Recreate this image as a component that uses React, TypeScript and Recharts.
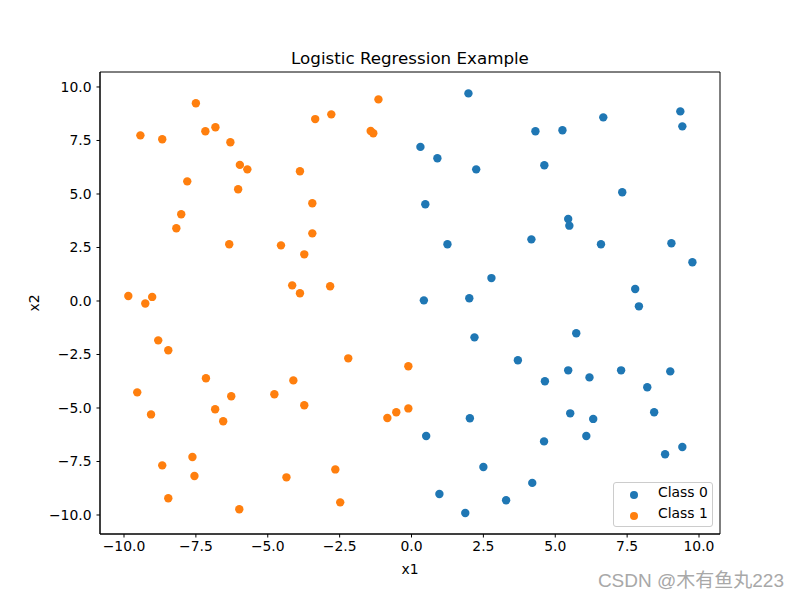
import React from 'react';
import { ScatterChart, Scatter, XAxis, YAxis, ReferenceArea, Legend } from 'recharts';

const class0X = [1.98, 9.35, 9.42, 6.67, 4.31, 5.25, 0.31, 0.90, 2.25, 4.62, 7.33, 0.48, 5.45, 5.49, 1.25, 4.17, 6.59, 9.04, 9.77, 2.78, 7.78, 0.43, 2.01, 7.91, 2.19, 5.73, 3.70, 4.64, 5.45, 6.19, 7.29, 9.00, 8.20, 8.44, 5.52, 6.32, 2.03, 0.51, 6.08, 4.61, 9.42, 8.82, 2.50, 4.20, 0.97, 3.29, 1.87];
const class0Y = [9.70, 8.86, 8.16, 8.58, 7.93, 7.98, 7.20, 6.67, 6.15, 6.34, 5.08, 4.52, 3.83, 3.52, 2.65, 2.88, 2.65, 2.70, 1.81, 1.07, 0.56, 0.03, 0.13, -0.25, -1.70, -1.51, -2.77, -3.75, -3.24, -3.57, -3.24, -3.29, -4.03, -5.20, -5.25, -5.51, -5.48, -6.31, -6.31, -6.56, -6.82, -7.16, -7.76, -8.50, -9.02, -9.31, -9.91];

const class1X = [-7.50, -9.43, -8.67, -7.17, -6.82, -6.30, -5.97, -5.71, -7.80, -6.03, -8.01, -8.18, -6.34, -4.54, -3.73, -3.45, -3.45, -3.88, -3.35, -2.79, -1.15, -1.42, -1.33, -4.15, -3.88, -2.83, -9.85, -9.02, -9.26, -8.81, -8.46, -2.20, -7.15, -9.54, -4.11, -4.77, -6.27, -3.73, -6.83, -6.55, -9.06, -0.11, -0.11, -0.84, -0.53, -7.62, -8.67, -7.55, -8.46, -5.99, -4.35, -2.65, -2.48];
const class1Y = [9.24, 7.74, 7.56, 7.93, 8.12, 7.42, 6.36, 6.15, 5.59, 5.22, 4.05, 3.40, 2.65, 2.60, 2.18, 3.16, 4.57, 6.06, 8.50, 8.72, 9.42, 7.94, 7.84, 0.73, 0.36, 0.69, 0.23, 0.19, -0.12, -1.84, -2.30, -2.68, -3.61, -4.27, -3.71, -4.36, -4.45, -4.87, -5.06, -5.62, -5.30, -3.05, -5.02, -5.47, -5.20, -7.29, -7.68, -8.18, -9.22, -9.73, -8.24, -7.87, -9.41];

const xTicks = [-10, -7.5, -5, -2.5, 0, 2.5, 5, 7.5, 10];
const yTicks = [-10, -7.5, -5, -2.5, 0, 2.5, 5, 7.5, 10];
const seriesNames = ['Class 0', 'Class 1'];
const seriesColors = ['#1f77b4', '#ff7f0e'];
const titleText = 'Logistic Regression Example';
const xLabel = 'x1';
const yLabel = 'x2';
const watermark = 'CSDN @木有鱼丸223';

const xDomain: [number, number] = [-10.835, 10.73];
const yDomain: [number, number] = [-10.888, 10.70];

const class0 = class0X.map((x, i) => ({ x, y: class0Y[i] }));
const class1 = class1X.map((x, i) => ({ x, y: class1Y[i] }));

const FONT = '"DejaVu Sans", sans-serif';
const FS = 13.9;

const fmt = (v: number) => (v < 0 ? '\u2212' : '') + Math.abs(v).toFixed(1);

const makeDot = (color: string) => (props: any) => (
  <circle cx={props.cx} cy={props.cy} r={4.2} fill={color} />
);

const renderLegend = () => (
  <div
    style={{
      position: 'relative',
      width: 100,
      height: 45,
      boxSizing: 'border-box',
      border: '1px solid #cccccc',
      borderRadius: 3,
      background: 'rgba(255,255,255,0.8)',
      fontFamily: FONT,
      fontSize: FS,
      color: '#000',
    }}
  >
    {seriesNames.map((name, i) => (
      <React.Fragment key={name}>
        <div
          style={{
            position: 'absolute',
            left: 15.5,
            top: 7.5 + i * 21,
            width: 8.4,
            height: 8.4,
            borderRadius: '50%',
            background: seriesColors[i],
          }}
        />
        <div
          style={{
            position: 'absolute',
            left: 44,
            top: 3 + i * 21,
            lineHeight: 1,
            whiteSpace: 'nowrap',
          }}
        >
          {name}
        </div>
      </React.Fragment>
    ))}
  </div>
);

export default function App() {
  return (
    <div
      style={{
        position: 'absolute',
        left: 0,
        top: 0,
        width: 800,
        height: 600,
        background: '#fff',
        fontFamily: FONT,
      }}
    >
      <ScatterChart
        width={800}
        height={600}
        margin={{ top: 72, right: 80, bottom: 36, left: 40 }}
      >
        <XAxis
          type="number"
          dataKey="x"
          domain={xDomain}
          ticks={xTicks}
          allowDataOverflow
          tickFormatter={fmt}
          height={30}
          tickSize={3.5}
          tickMargin={4}
          axisLine={{ stroke: '#000', strokeWidth: 1 }}
          tickLine={{ stroke: '#000', strokeWidth: 1 }}
          tick={{ fill: '#000', fontSize: FS, fontFamily: FONT }}
        />
        <YAxis
          type="number"
          dataKey="y"
          domain={yDomain}
          ticks={yTicks}
          allowDataOverflow
          tickFormatter={fmt}
          width={60}
          tickSize={3.5}
          tickMargin={5}
          axisLine={{ stroke: '#000', strokeWidth: 1 }}
          tickLine={{ stroke: '#000', strokeWidth: 1 }}
          tick={{ fill: '#000', fontSize: FS, fontFamily: FONT }}
        />
        <ReferenceArea
          x1={xDomain[0]}
          x2={xDomain[1]}
          y1={yDomain[0]}
          y2={yDomain[1]}
          fill="none"
          stroke="#000"
          strokeWidth={1}
          ifOverflow="visible"
        />
        <Scatter
          name={seriesNames[0]}
          data={class0}
          fill={seriesColors[0]}
          shape={makeDot(seriesColors[0])}
          isAnimationActive={false}
        />
        <Scatter
          name={seriesNames[1]}
          data={class1}
          fill={seriesColors[1]}
          shape={makeDot(seriesColors[1])}
          isAnimationActive={false}
        />
        <Legend
          layout="horizontal"
          verticalAlign="middle"
          align="center"
          content={renderLegend}
          wrapperStyle={{ left: 613, top: 482, width: 100, height: 45 }}
        />
      </ScatterChart>
      <div
        style={{
          position: 'absolute',
          left: 0,
          width: 820,
          top: 49.5,
          textAlign: 'center',
          fontSize: 16.7,
          lineHeight: 1,
          color: '#000',
        }}
      >
        {titleText}
      </div>
      <div
        style={{
          position: 'absolute',
          left: 0,
          width: 820,
          top: 563,
          textAlign: 'center',
          fontSize: FS,
          lineHeight: 1,
          color: '#000',
        }}
      >
        {xLabel}
      </div>
      <div
        style={{
          position: 'absolute',
          left: 35 - 30,
          top: 303 - 7,
          width: 60,
          height: 14,
          textAlign: 'center',
          fontSize: FS,
          lineHeight: 1,
          color: '#000',
          transform: 'rotate(-90deg)',
        }}
      >
        {yLabel}
      </div>
      <div
        style={{
          position: 'absolute',
          right: 16,
          top: 571,
          fontSize: 19,
          lineHeight: 1,
          color: '#a8a8a8',
          fontFamily: '"Liberation Sans", "Noto Sans CJK SC", sans-serif',
          whiteSpace: 'nowrap',
        }}
      >
        {watermark}
      </div>
    </div>
  );
}
